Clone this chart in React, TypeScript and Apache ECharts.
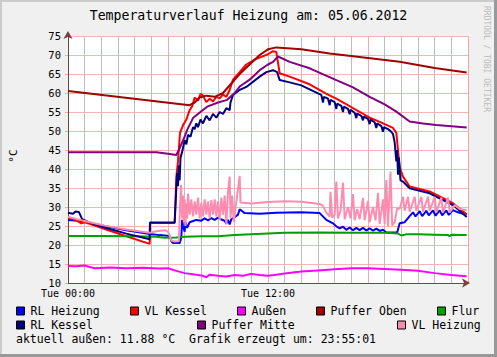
import React, { useEffect, useRef } from "react";
import * as echarts from "echarts";

type P = [number, number];

const titleText = "Temperaturverlauf Heizung am: 05.06.2012";
const footerText = "aktuell außen: 11.88 °C  Grafik erzeugt um: 23:55:01";
const unitText = "°C";
const watermark = "RRDTOOL / TOBI OETIKER";
const xTickLabels: Record<number, string> = { 0: "Tue 00:00", 12: "Tue 12:00" };

const seriesNames = ["RL Heizung", "VL Kessel", "Außen", "Puffer Oben", "Flur", "RL Kessel", "Puffer Mitte", "VL Heizung"];
const seriesColors = ["#0000FF", "#FF0000", "#FF00FF", "#A00000", "#00A000", "#00007F", "#800080", "#FF8CAF"];

const rlHeizung: P[] = [
  [0, 26.6], [0.8, 26.3], [1.3, 25.8], [2.2, 25.0], [3.5, 23.9], [4.9, 22.9], [5.5, 22.6], [6.1, 22.4],
  [6.2, 21.0], [6.3, 20.5], [6.7, 20.5], [6.8, 22.0], [6.85, 26.6], [6.9, 25.0], [7.0, 23.5], [7.05, 26.0],
  [7.15, 24.5], [7.3, 26.0], [7.5, 26.3], [7.7, 26.6], [8.0, 26.4], [8.2, 27.0], [8.4, 26.5], [8.6, 27.1],
  [8.8, 26.6], [9.0, 27.2], [9.2, 26.7], [9.4, 26.4], [9.5, 25.6], [9.6, 26.6], [9.7, 25.4], [9.8, 26.8],
  [10.0, 27.3], [10.2, 28.0], [10.3, 29.4], [10.6, 28.4], [11.5, 28.2], [12.5, 28.5], [14.0, 28.6], [15.1, 28.4],
  [15.5, 26.6], [15.9, 25.7], [16.1, 24.9], [16.3, 24.4], [16.5, 24.8], [16.7, 24.0], [16.9, 24.6], [17.1, 23.9],
  [17.3, 24.5], [17.5, 23.9], [17.7, 24.5], [17.9, 23.8], [18.1, 24.4], [18.3, 23.8], [18.5, 24.3], [18.7, 23.7],
  [18.9, 24.0], [19.1, 23.3], [19.75, 23.3], [19.9, 25.7], [20.2, 26.0], [20.5, 27.6], [20.7, 28.6], [20.85, 27.5],
  [21.1, 28.9], [21.25, 27.6], [21.5, 29.0], [21.65, 27.8], [21.9, 29.1], [22.05, 27.7], [22.3, 29.1], [22.45, 27.8],
  [22.7, 29.1], [22.85, 27.9], [23.1, 29.2], [23.4, 28.6], [23.7, 28.2], [23.92, 28.0],
];

const vlKessel: P[] = [
  [0, 27.3], [0.5, 26.5], [0.8, 25.7], [1.0, 26.0], [1.3, 25.6], [2.2, 24.2], [3.5, 22.3], [4.9, 20.3],
  [4.92, 25.8], [6.4, 25.8], [6.5, 38.0], [6.6, 42.0], [6.72, 49.5], [6.9, 51.5], [7.1, 53.0], [7.3, 55.5],
  [7.45, 56.5], [7.6, 58.8], [7.8, 58.0], [7.95, 59.8], [8.1, 59.3], [8.3, 57.6], [8.5, 58.5], [8.7, 57.8],
  [8.9, 59.0], [9.1, 58.6], [9.3, 59.6], [9.5, 59.0], [9.7, 60.8], [9.9, 63.5], [10.3, 65.5], [10.7, 67.5],
  [11.2, 68.8], [11.6, 69.5], [12.0, 70.2], [12.3, 71.0], [12.5, 70.8], [12.7, 65.2], [13.3, 64.3], [14.5, 62.3],
  [15.3, 60.3], [15.6, 59.6], [16.1, 58.5], [16.6, 57.3], [17.1, 56.0], [17.6, 54.8], [18.1, 53.5], [18.5, 52.8],
  [18.9, 52.0], [19.5, 50.8], [19.7, 49.5], [19.8, 45.0], [19.9, 40.5], [20.1, 38.0], [20.5, 35.4], [21.7, 34.1],
  [23.1, 31.0], [23.5, 29.6], [23.92, 28.0],
];

const aussen: P[] = [
  [0, 14.5], [0.5, 14.4], [1.0, 14.6], [1.3, 14.2], [1.6, 13.9], [2.5, 14.1], [3.5, 13.9], [4.5, 14.0],
  [5.5, 13.8], [6.0, 13.9], [6.5, 13.2], [7.0, 12.6], [7.5, 12.3], [8.0, 12.0], [8.3, 11.5], [8.5, 12.2],
  [9.0, 11.9], [9.5, 11.7], [10.0, 12.1], [10.5, 11.9], [11.0, 12.4], [11.5, 12.1], [12.0, 11.9], [12.5, 12.2],
  [13.0, 12.5], [14.0, 13.0], [15.0, 13.3], [16.0, 13.6], [17.0, 13.9], [18.0, 13.9], [19.0, 13.7], [20.0, 13.5],
  [21.0, 13.2], [22.0, 12.6], [23.0, 12.1], [23.92, 11.8],
];

const pufferOben: P[] = [
  [0, 60.5], [7.3, 56.8], [7.6, 57.5], [7.9, 58.8], [8.3, 59.3], [8.8, 59.0], [9.3, 60.0], [9.8, 62.5],
  [10.3, 65.0], [10.9, 67.5], [11.5, 70.0], [12.0, 71.5], [12.5, 72.0], [14.0, 71.5], [15.7, 70.4], [18.0, 69.2],
  [19.9, 68.2], [22.0, 66.6], [23.92, 65.4],
];

const flur: P[] = [
  [0, 22.4], [2, 22.4], [4, 22.3], [5.3, 22.2], [5.8, 21.9], [6.5, 22.0], [7.0, 22.2], [8, 22.3],
  [9, 22.3], [10, 22.6], [11, 22.8], [12, 23.0], [13, 23.2], [15, 23.3], [17, 23.2], [19, 23.2],
  [19.8, 23.0], [20.0, 22.5], [20.3, 22.8], [21, 22.8], [22, 22.7], [22.8, 22.6], [22.9, 22.3], [23.0, 22.7],
  [23.92, 22.6],
];

const rlKessel: P[] = [
  [0, 28.5], [0.3, 28.2], [0.45, 28.8], [0.65, 28.7], [0.85, 26.8], [1.3, 25.9], [2.2, 24.6], [3.5, 23.0],
  [4.9, 21.5], [4.92, 25.9], [6.4, 25.9], [6.5, 35.0], [6.55, 39.0], [6.6, 35.5], [6.65, 41.0], [6.7, 37.0],
  [6.75, 43.0], [6.85, 44.5], [7.0, 47.6], [7.1, 46.5], [7.2, 49.0], [7.35, 48.5], [7.5, 51.0], [7.6, 50.5],
  [7.7, 52.0], [7.8, 51.0], [7.95, 53.0], [8.1, 52.0], [8.3, 54.0], [8.5, 52.8], [8.7, 54.5], [8.9, 53.5],
  [9.1, 55.0], [9.3, 54.5], [9.5, 56.0], [9.7, 55.5], [9.75, 57.5], [9.9, 59.5], [10.3, 60.8], [10.7, 61.6],
  [11.5, 64.3], [11.9, 65.5], [12.3, 66.0], [12.55, 65.5], [12.7, 63.4], [13.3, 62.8], [14.0, 62.0], [15.0, 59.9],
  [15.2, 59.5], [15.3, 57.5], [15.35, 59.0], [15.6, 58.5], [15.7, 56.8], [15.75, 58.2], [16.0, 57.6], [16.1, 55.8],
  [16.15, 57.2], [16.4, 56.6], [16.5, 55.0], [16.55, 56.4], [16.8, 55.8], [16.9, 54.4], [16.95, 55.6], [17.2, 54.8],
  [17.3, 53.4], [17.35, 54.6], [17.6, 54.0], [17.7, 52.8], [17.75, 53.8], [18.0, 53.2], [18.1, 51.8], [18.15, 53.0],
  [18.4, 52.3], [18.5, 50.8], [18.55, 52.0], [18.8, 51.3], [18.9, 49.8], [18.95, 51.0], [19.2, 50.5], [19.4, 49.8],
  [19.5, 49.2], [19.6, 47.0], [19.7, 42.0], [19.75, 45.0], [19.8, 38.5], [19.85, 43.0], [19.95, 37.0], [20.1, 36.7],
  [20.5, 34.9], [21.7, 33.6], [23.1, 30.5], [23.5, 29.0], [23.92, 27.4],
];

const pufferMitte: P[] = [
  [0, 44.4], [5.3, 44.4], [6.0, 44.0], [6.5, 43.7], [6.7, 45.5], [7.0, 48.5], [7.15, 50.3], [7.5, 53.4],
  [8.0, 55.2], [8.35, 56.4], [9.0, 57.5], [9.55, 58.2], [10.0, 60.0], [10.3, 61.7], [10.9, 63.5], [11.5, 66.0],
  [12.0, 67.5], [12.3, 68.2], [12.6, 69.6], [13.3, 68.2], [14.5, 66.5], [16.1, 63.4], [17.1, 61.5], [18.1, 59.0],
  [19.0, 57.0], [19.7, 55.1], [20.5, 52.5], [21.3, 52.0], [22.1, 51.6], [23.92, 50.9],
];

const vlHeizung: P[] = [
  [0, 27.4], [0.8, 26.5], [1.3, 26.0], [2.2, 25.1], [3.5, 24.1], [4.9, 23.2], [5.3, 23.6], [5.8, 23.9],
  [6.0, 23.5], [6.2, 21.2], [6.4, 20.9], [6.65, 21.0], [6.72, 30.0], [6.78, 35.8], [6.85, 27.0], [6.9, 33.0],
  [6.95, 26.0], [7.0, 32.0], [7.05, 25.0], [7.1, 31.0], [7.15, 27.0], [7.2, 33.5], [7.3, 28.0], [7.4, 32.0],
  [7.5, 27.5], [7.6, 31.5], [7.7, 28.0], [7.8, 32.5], [7.9, 27.0], [8.0, 31.0], [8.1, 27.5], [8.2, 32.0],
  [8.3, 28.0], [8.4, 31.5], [8.5, 27.0], [8.6, 31.8], [8.7, 28.0], [8.8, 32.0], [8.9, 27.5], [9.0, 31.5],
  [9.1, 26.5], [9.2, 32.5], [9.3, 28.0], [9.4, 33.0], [9.5, 25.5], [9.6, 34.0], [9.7, 38.0], [9.75, 27.0],
  [9.85, 33.0], [9.95, 26.0], [10.1, 31.5], [10.3, 38.2], [10.35, 31.2], [11.0, 30.9], [12.0, 31.3], [13.0, 31.5],
  [14.0, 31.4], [15.1, 30.8], [15.3, 30.3], [15.5, 28.5], [15.7, 27.5], [15.75, 34.0], [15.85, 27.2], [16.0, 28.0],
  [16.1, 36.7], [16.2, 27.0], [16.35, 29.0], [16.5, 36.4], [16.6, 26.8], [16.8, 30.0], [16.95, 27.0], [17.1, 33.4],
  [17.2, 26.5], [17.35, 29.5], [17.5, 26.8], [17.7, 32.4], [17.8, 26.5], [18.0, 31.6], [18.1, 26.0], [18.3, 30.0],
  [18.45, 26.5], [18.6, 33.7], [18.7, 25.5], [18.9, 32.0], [19.0, 25.5], [19.1, 37.1], [19.2, 25.0], [19.35, 39.3],
  [19.45, 25.2], [19.6, 26.0], [19.75, 29.7], [19.9, 29.5], [20.1, 32.7], [20.2, 29.0], [20.4, 32.7], [20.5, 28.8],
  [20.8, 32.7], [20.9, 29.0], [21.2, 32.7], [21.3, 28.8], [21.6, 32.7], [21.7, 29.0], [22.0, 32.7], [22.1, 28.6],
  [22.4, 32.5], [22.5, 28.5], [22.8, 32.5], [22.9, 28.5], [23.2, 30.5], [23.5, 29.5], [23.92, 29.2],
];

const seriesData: P[][] = [rlHeizung, vlKessel, aussen, pufferOben, flur, rlKessel, pufferMitte, vlHeizung];

const legendPos: [number, number][] = [
  [16, 305], [130, 305], [237, 305], [316, 305], [437, 305],
  [16, 319], [197, 319], [397, 319],
];

const MONO = '"DejaVu Sans Mono", monospace';
const MAJOR = "#F4A8A8";
const MINOR = "#BDBDBD";

export default function App() {
  const ref = useRef<HTMLDivElement>(null);

  useEffect(() => {
    if (!ref.current) return;
    const chart = echarts.init(ref.current, undefined, { renderer: "svg" });

    const option: any = {
      animation: false,
      backgroundColor: "#F0F0F0",
      textStyle: { fontFamily: MONO },
      title: {
        text: titleText,
        left: "center",
        top: 9,
        padding: 0,
        textStyle: { fontFamily: MONO, fontSize: 13.2, fontWeight: "normal", color: "#000" },
      },
      grid: {
        left: 68,
        top: 36,
        width: 400,
        height: 247,
        show: true,
        backgroundColor: "#FFFFFF",
        borderWidth: 0,
      },
      xAxis: {
        type: "value",
        min: 0,
        max: 24,
        interval: 1,
        axisLine: {
          show: true,
          onZero: false,
          symbol: ["none", "arrow"],
          symbolSize: [7, 8],
          symbolOffset: [0, 2],
          lineStyle: { color: "#7a4040", width: 1 },
        },
        axisTick: { show: false },
        axisLabel: {
          show: true,
          interval: 0,
          margin: 5,
          color: "#000",
          fontFamily: MONO,
          fontSize: 10,
          hideOverlap: false,
          formatter: (v: number) => xTickLabels[v] ?? "",
        },
        splitLine: {
          show: true,
          showMinLine: true,
          showMaxLine: true,
          lineStyle: { color: [MAJOR, MINOR, MINOR, MINOR, MINOR, MINOR], width: 1, opacity: 1 },
        },
      },
      yAxis: {
        type: "value",
        min: 10,
        max: 75,
        interval: 5,
        axisLine: {
          show: true,
          onZero: false,
          symbol: ["none", "arrow"],
          symbolSize: [7, 8],
          symbolOffset: [0, 5],
          lineStyle: { color: "#7a4040", width: 1 },
        },
        axisTick: { show: true, length: 3, lineStyle: { color: MAJOR } },
        axisLabel: { margin: 7, color: "#000", fontFamily: MONO, fontSize: 10.5 },
        splitLine: { show: true, lineStyle: { color: "#F6B4B4", width: 1 } },
      },
      legend: seriesNames.map((n, i) => ({
        data: [n],
        left: legendPos[i][0],
        top: legendPos[i][1],
        padding: 0,
        itemGap: 0,
        itemWidth: 8,
        itemHeight: 8,
        icon: "rect",
        selectedMode: false,
        itemStyle: { borderColor: "#000", borderWidth: 1 },
        textStyle: { fontFamily: MONO, fontSize: 11.5, color: "#000", padding: [0, 0, 0, 1] },
      })),
      graphic: [
        { type: "rect", shape: { x: 0, y: 0, width: 497, height: 2 }, style: { fill: "#CBCBCB" }, silent: true },
        { type: "rect", shape: { x: 0, y: 0, width: 2, height: 357 }, style: { fill: "#CBCBCB" }, silent: true },
        { type: "rect", shape: { x: 494, y: 0, width: 3, height: 357 }, style: { fill: "#999999" }, silent: true },
        { type: "rect", shape: { x: 0, y: 354, width: 497, height: 3 }, style: { fill: "#999999" }, silent: true },
        {
          type: "text",
          x: 486,
          y: 6,
          rotation: -Math.PI / 2,
          style: { text: watermark, font: '8px "DejaVu Sans Mono"', fill: "#BBBBBB", align: "left", verticalAlign: "middle" },
          silent: true,
        },
        {
          type: "text",
          x: 13,
          y: 156,
          rotation: Math.PI / 2,
          style: { text: unitText, font: '11px "DejaVu Sans Mono"', fill: "#000", align: "center", verticalAlign: "middle" },
          silent: true,
        },
        {
          type: "text",
          x: 16,
          y: 339,
          style: { text: footerText, font: '11.5px "DejaVu Sans Mono"', fill: "#000", align: "left", verticalAlign: "middle" },
          silent: true,
        },
      ],
      series: seriesNames.map((n, i) => ({
        name: n,
        type: "line",
        data: seriesData[i],
        showSymbol: false,
        symbol: "none",
        color: seriesColors[i],
        lineStyle: { color: seriesColors[i], width: 2 },
        itemStyle: { color: seriesColors[i] },
        silent: true,
        z: 2 + i * 0.01,
      })),
    };

    chart.setOption(option);
    return () => chart.dispose();
  }, []);

  return <div ref={ref} style={{ position: "absolute", left: 0, top: 0, width: 497, height: 357 }} />;
}
